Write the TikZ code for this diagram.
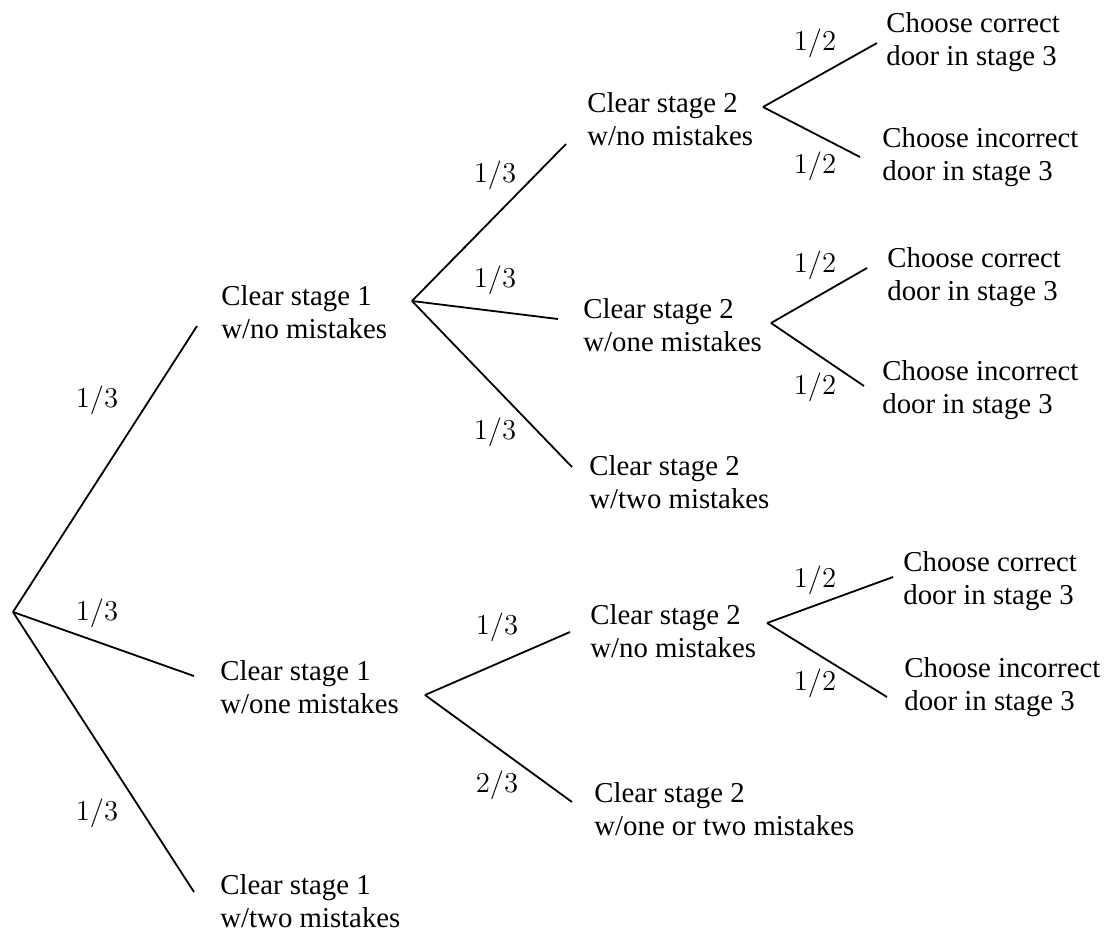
\documentclass[tikz,border=0pt]{standalone}
\usepackage[no-math]{fontspec}
\setmainfont{Liberation Serif}
\usepackage{amsmath}

\tikzset{
  stage/.style={anchor=base west, align=left, inner sep=0pt},
  prob/.style={inner sep=0pt},
  branch/.style={line width=0.9pt}
}

\begin{document}
\begin{tikzpicture}[x=0.5pt, y=-0.5pt, font=\fontsize{14.4}{16.5}\selectfont]
  \useasboundingbox (0,0) rectangle (1108,934);

  \coordinate (root) at (13,612);

  % stage 1 (base = last line)
  \node[stage] (c1no)  at (221,338) {Clear stage 1\\w/no mistakes};
  \node[stage] (c1one) at (220,713) {Clear stage 1\\w/one mistakes};
  \node[stage] (c1two) at (220,927) {Clear stage 1\\w/two mistakes};
  \coordinate (c1no-in)   at (197,326);
  \coordinate (c1one-in)  at (194,676);
  \coordinate (c1two-in)  at (194,892);
  \coordinate (c1no-out)  at (412,301);
  \coordinate (c1one-out) at (425,695);

  % stage 2
  \node[stage] (c2a) at (587,145) {Clear stage 2\\w/no mistakes};
  \node[stage] (c2b) at (583,351) {Clear stage 2\\w/one mistakes};
  \node[stage] (c2c) at (589,508) {Clear stage 2\\w/two mistakes};
  \node[stage] (c2d) at (590,657) {Clear stage 2\\w/no mistakes};
  \node[stage] (c2e) at (594,835) {Clear stage 2\\w/one or two mistakes};
  \coordinate (c2a-in)  at (566,144);
  \coordinate (c2b-in)  at (558,319);
  \coordinate (c2c-in)  at (572,467);
  \coordinate (c2d-in)  at (570,632);
  \coordinate (c2e-in)  at (572,802);
  \coordinate (c2a-out) at (763,107);
  \coordinate (c2b-out) at (771,323);
  \coordinate (c2d-out) at (767,623);

  % stage 3
  \node[stage] (c3a) at (886,65)  {Choose correct\\door in stage 3};
  \node[stage] (c3b) at (882,180) {Choose incorrect\\door in stage 3};
  \node[stage] (c3c) at (887,300) {Choose correct\\door in stage 3};
  \node[stage] (c3d) at (882,413) {Choose incorrect\\door in stage 3};
  \node[stage] (c3e) at (903,604) {Choose correct\\door in stage 3};
  \node[stage] (c3f) at (904,710) {Choose incorrect\\door in stage 3};
  \coordinate (c3a-in) at (877,43);
  \coordinate (c3b-in) at (860,157);
  \coordinate (c3c-in) at (867,268);
  \coordinate (c3d-in) at (864,386);
  \coordinate (c3e-in) at (893,577);
  \coordinate (c3f-in) at (887,697);

  % branches
  \draw[branch] (root) -- (c1no-in);
  \draw[branch] (root) -- (c1one-in);
  \draw[branch] (root) -- (c1two-in);
  \draw[branch] (c1no-out) -- (c2a-in);
  \draw[branch] (c1no-out) -- (c2b-in);
  \draw[branch] (c1no-out) -- (c2c-in);
  \draw[branch] (c1one-out) -- (c2d-in);
  \draw[branch] (c1one-out) -- (c2e-in);
  \draw[branch] (c2a-out) -- (c3a-in);
  \draw[branch] (c2a-out) -- (c3b-in);
  \draw[branch] (c2b-out) -- (c3c-in);
  \draw[branch] (c2b-out) -- (c3d-in);
  \draw[branch] (c2d-out) -- (c3e-in);
  \draw[branch] (c2d-out) -- (c3f-in);

  % probabilities
  \node[prob] (p1) at (97,400) {$1/3$};
  \node[prob] (p2) at (97,613) {$1/3$};
  \node[prob] (p3) at (97,813) {$1/3$};
  \node[prob] (p4) at (495,175) {$1/3$};
  \node[prob] (p5) at (495,280) {$1/3$};
  \node[prob] (p6) at (495,432) {$1/3$};
  \node[prob] (p7) at (497,627) {$1/3$};
  \node[prob] (p8) at (497,785) {$2/3$};
  \node[prob] (p9)  at (815,43)  {$1/2$};
  \node[prob] (p10) at (815,166) {$1/2$};
  \node[prob] (p11) at (815,265) {$1/2$};
  \node[prob] (p12) at (815,387) {$1/2$};
  \node[prob] (p13) at (815,580) {$1/2$};
  \node[prob] (p14) at (815,683) {$1/2$};
\end{tikzpicture}
\end{document}
